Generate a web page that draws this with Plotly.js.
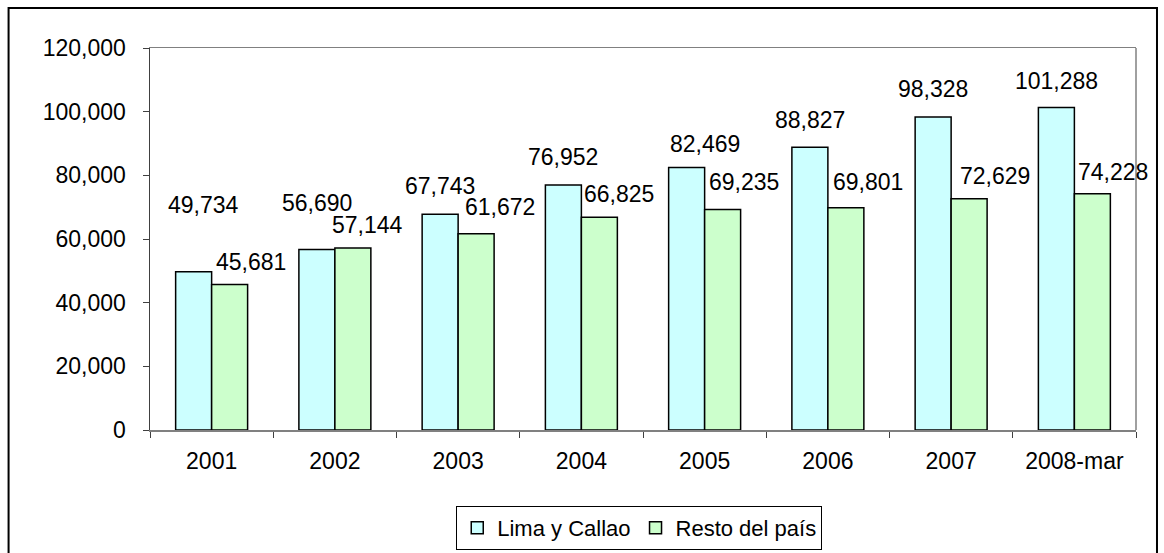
<!DOCTYPE html>
<html>
<head>
<meta charset="utf-8">
<script src="https://cdn.plot.ly/plotly-3.0.1.min.js"></script>
<style>
  html, body { margin: 0; padding: 0; background: #fff; }
  #chart { width: 1164px; height: 553px; }
</style>
</head>
<body>
<div id="chart"></div>
<script>
const categories = ["2001", "2002", "2003", "2004", "2005", "2006", "2007", "2008-mar"];
const limaCallao = [49734, 56690, 67743, 76952, 82469, 88827, 98328, 101288];
const restoPais = [45681, 57144, 61672, 66825, 69235, 69801, 72629, 74228];
const seriesNames = ["Lima y Callao", "Resto del país"];

// label nudges (pixels) relative to the top-centre of each bar
const limaNudgeX = [10, 0, 0, 0, 18, 0, 0, 0];
const limaNudgeY = [67, 47, 28, 28, 23, 27, 28, 27];
const restoNudgeX = [21, 15, 24, 20, 21, 22, 26, 21];
const restoNudgeY = [23, 23, 27, 23, 28, 26, 23, 22];

const FONT = "Liberation Sans, Arial, sans-serif";
const FS = 23;
const fmt = v => v.toLocaleString("en-US");

const barLine = { color: "#000", width: 1.5 };
const traces = [
  { type: "bar", name: seriesNames[0], x: categories, y: limaCallao,
    marker: { color: "#CCFFFF", line: barLine }, hoverinfo: "x+y" },
  { type: "bar", name: seriesNames[1], x: categories, y: restoPais,
    marker: { color: "#CCFFCC", line: barLine }, hoverinfo: "x+y" }
];

const halfBar = 18;
const annotations = [];
categories.forEach((c, i) => {
  annotations.push({ x: i, y: limaCallao[i], xref: "x", yref: "y", text: fmt(limaCallao[i]),
    showarrow: false, xanchor: "center", yanchor: "middle",
    xshift: -halfBar + limaNudgeX[i], yshift: limaNudgeY[i],
    font: { family: FONT, size: FS, color: "#000" } });
  annotations.push({ x: i, y: restoPais[i], xref: "x", yref: "y", text: fmt(restoPais[i]),
    showarrow: false, xanchor: "center", yanchor: "middle",
    xshift: halfBar + restoNudgeX[i], yshift: restoNudgeY[i],
    font: { family: FONT, size: FS, color: "#000" } });
});

const L = 149.5, R = 1136, T = 48, B = 430;
const W = R - L, H = B - T;
const px = x => (x - L) / W;
const py = y => (B - y) / H;

const layout = {
  width: 1164, height: 553,
  margin: { l: L, r: 1164 - R, t: T, b: 553 - B, pad: 0, autoexpand: false },
  paper_bgcolor: "#fff", plot_bgcolor: "#fff",
  font: { family: FONT, size: FS, color: "#000" },
  barmode: "group", bargap: 0.416, bargroupgap: 0,
  showlegend: true,
  legend: { orientation: "h", x: px(639), xanchor: "center", y: py(506), yanchor: "top",
    bordercolor: "#000", borderwidth: 1, bgcolor: "#fff",
    font: { family: FONT, size: 22, color: "#000" }, traceorder: "normal" },
  xaxis: { type: "category", range: [-0.5, categories.length - 0.5], showgrid: false, zeroline: false,
    showline: true, linecolor: "#808080", linewidth: 1.5, mirror: true,
    ticks: "outside", tickson: "boundaries", ticklen: 6, tickcolor: "#404040", tickwidth: 1,
    ticklabelstandoff: 10, tickangle: 0,
    tickfont: { family: FONT, size: FS, color: "#000" } },
  yaxis: { range: [0, 120000], dtick: 20000, tickformat: ",d", showgrid: false, zeroline: false,
    showline: true, linecolor: "#404040", linewidth: 1.5, mirror: false,
    ticks: "outside", ticklen: 6, tickcolor: "#404040", tickwidth: 1,
    ticklabelstandoff: 12,
    tickfont: { family: FONT, size: FS, color: "#000" } },
  annotations: annotations,
  shapes: [
    { type: "line", xref: "paper", yref: "paper", x0: 1, x1: 1, y0: 0, y1: 1,
      line: { color: "#808080", width: 1.5 } },
    { type: "rect", xref: "paper", yref: "paper",
      x0: px(8), x1: px(1157), y0: py(580), y1: py(8),
      line: { color: "#000", width: 2 }, layer: "below" }
  ]
};

Plotly.newPlot("chart", traces, layout, { staticPlot: true, displayModeBar: false });
</script>
</body>
</html>
